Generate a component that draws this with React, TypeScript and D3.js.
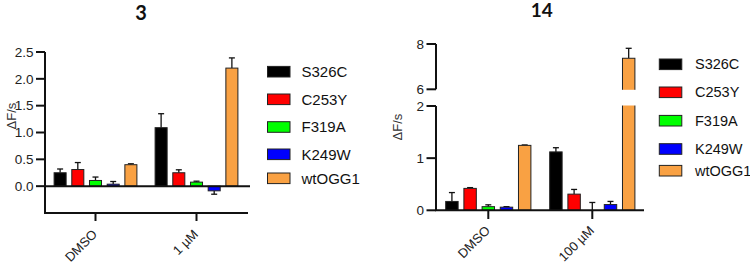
import React from "react";
import * as d3 from "d3";

const series = ["S326C", "C253Y", "F319A", "K249W", "wtOGG1"];
const colors = ["#000000", "#ff0000", "#00ff00", "#0000ff", "#f9a143"];

const groups1 = ["DMSO", "1 µM"];
const means1 = [
  [0.25, 0.31, 0.106, 0.037, 0.40],
  [1.09, 0.25, 0.075, -0.087, 2.2],
];
const errs1 = [
  [0.07, 0.13, 0.064, 0.05, 0.017],
  [0.26, 0.055, 0.018, 0.063, 0.19],
];
const yTicks1 = [0, 0.5, 1.0, 1.5, 2.0, 2.5];

const groups2 = ["DMSO", "100 µM"];
const means2 = [
  [0.17, 0.42, 0.07, 0.06, 1.245],
  [1.12, 0.31, 0.0, 0.11, 7.37],
];
const errs2 = [
  [0.17, 0.015, 0.035, 0.01, 0.008],
  [0.08, 0.09, 0.15, 0.06, 0.44],
];
const yTicksLow2 = [0, 1, 2];
const yTicksHigh2 = [6, 8];

const FONT = "'Liberation Sans', Arial, sans-serif";
const TITLE_FONT = "Lato, 'Open Sans', sans-serif";

function Legend({ x, textX, ys, fontSize }: { x: number; textX: number; ys: number[]; fontSize: number }) {
  return (
    <g>
      {series.map((s, i) => (
        <g key={s}>
          <rect x={x} y={ys[i] - 5.3} width={22.5} height={10.6} fill={colors[i]} stroke="#222" strokeWidth={1} />
          <text x={textX} y={ys[i]} dy="0.35em" fontFamily={FONT} fontSize={fontSize} fill="#111">
            {s}
          </text>
        </g>
      ))}
    </g>
  );
}

function Chart1() {
  const x0 = d3.scaleBand<string>().domain(groups1).range([45, 247]);
  const x1 = d3.scaleBand<string>().domain(series).range([-41.4, 41.4]).paddingInner(0.32).paddingOuter(0);
  const y = d3.scaleLinear().domain([-0.5, 2.5]).range([213, 52]);
  const fmt = d3.format(".1f");
  const bw = x1.bandwidth();
  return (
    <g>
      <text x={141} y={20} textAnchor="middle" fontFamily={TITLE_FONT} fontWeight={700} fontSize={20} fill="#111">
        3
      </text>
      <text transform={`translate(11,116) rotate(-90)`} textAnchor="middle" dy="0.35em" fontFamily={FONT} fontSize={13} fill="#333">
        ΔF/s
      </text>
      {groups1.map((g, gi) => {
        const cx = (x0(g) as number) + x0.bandwidth() / 2;
        return (
          <g key={g}>
            {series.map((s, si) => {
              const v = means1[gi][si];
              const e = errs1[gi][si];
              const bx = cx + (x1(s) as number);
              const top = Math.min(y(v), y(0));
              const h = Math.abs(y(v) - y(0));
              const ey = y(v + (v >= 0 ? e : -e));
              const mx = bx + bw / 2;
              return (
                <g key={s}>
                  <line x1={mx} x2={mx} y1={y(v)} y2={ey} stroke="#111" strokeWidth={1.3} />
                  <line x1={mx - 3} x2={mx + 3} y1={ey} y2={ey} stroke="#111" strokeWidth={1.3} />
                  <rect x={bx} y={top} width={bw} height={h} fill={colors[si]} stroke="#222" strokeWidth={1} />
                </g>
              );
            })}
            <line x1={cx} x2={cx} y1={y(-0.5)} y2={221} stroke="#111" strokeWidth={2} />
            <text
              transform={`translate(${cx + 2.5},${y(-0.5) + 22}) rotate(-45)`}
              textAnchor="end"
              fontFamily={FONT}
              fontSize={13}
              fill="#222"
            >
              {g}
            </text>
          </g>
        );
      })}
      <line x1={45} x2={250} y1={y(0)} y2={y(0)} stroke="#111" strokeWidth={2} />
      <line x1={44} x2={248} y1={y(-0.5)} y2={y(-0.5)} stroke="#111" strokeWidth={2} />
      <line x1={45} x2={45} y1={y(2.5)} y2={y(-0.5)} stroke="#111" strokeWidth={2} />
      {yTicks1.map((t) => (
        <g key={t}>
          <line x1={36} x2={45} y1={y(t)} y2={y(t)} stroke="#111" strokeWidth={2} />
          <text x={33.5} y={y(t)} dy="0.35em" textAnchor="end" fontFamily={FONT} fontSize={13.5} fill="#222">
            {fmt(t)}
          </text>
        </g>
      ))}
      <Legend x={267.5} textX={301.5} ys={[71.7, 99.3, 127, 154.3, 178.3]} fontSize={15} />
    </g>
  );
}

function Chart2() {
  const x0 = d3.scaleBand<string>().domain(groups2).range([436.3, 644.3]);
  const x1 = d3.scaleBand<string>().domain(series).range([-42.6, 42.6]).paddingInner(0.317).paddingOuter(0);
  const yLow = d3.scaleLinear().domain([0, 2]).range([210.3, 106]);
  const yHigh = d3.scaleLinear().domain([6, 8]).range([89.3, 44]);
  const y = (v: number) => (v <= 2 ? yLow(v) : yHigh(v));
  const bw = x1.bandwidth();
  return (
    <g>
      <text x={541.7} y={17} textAnchor="middle" fontFamily={TITLE_FONT} fontWeight={700} fontSize={19} fill="#111">
        14
      </text>
      <text transform={`translate(397.5,127) rotate(-90)`} textAnchor="middle" dy="0.35em" fontFamily={FONT} fontSize={13} fill="#333">
        ΔF/s
      </text>
      {groups2.map((g, gi) => {
        const cx = (x0(g) as number) + x0.bandwidth() / 2;
        return (
          <g key={g}>
            {series.map((s, si) => {
              const v = means2[gi][si];
              const e = errs2[gi][si];
              const bx = cx + (x1(s) as number);
              const top = y(v);
              const h = yLow(0) - top;
              const ey = y(v + e);
              const mx = bx + bw / 2;
              return (
                <g key={s}>
                  <line x1={mx} x2={mx} y1={y(v)} y2={ey} stroke="#111" strokeWidth={1.3} />
                  <line x1={mx - 3} x2={mx + 3} y1={ey} y2={ey} stroke="#111" strokeWidth={1.3} />
                  <rect x={bx} y={top} width={bw} height={h} fill={colors[si]} stroke="#222" strokeWidth={1} />
                  {v > 2 && (
                    <rect x={bx - 2} y={yHigh(6) + 0.5} width={bw + 4} height={yLow(2) - yHigh(6) - 1} fill="#fff" />
                  )}
                </g>
              );
            })}
            <line x1={cx} x2={cx} y1={yLow(0)} y2={219} stroke="#111" strokeWidth={2} />
            <text
              transform={`translate(${cx + 2.5},${yLow(0) + 21}) rotate(-45)`}
              textAnchor="end"
              fontFamily={FONT}
              fontSize={13}
              fill="#222"
            >
              {g}
            </text>
          </g>
        );
      })}
      <line x1={435} x2={644} y1={yLow(0)} y2={yLow(0)} stroke="#111" strokeWidth={2} />
      <line x1={436} x2={436} y1={yLow(2)} y2={yLow(0)} stroke="#111" strokeWidth={2} />
      <line x1={436} x2={436} y1={yHigh(8)} y2={yHigh(6)} stroke="#111" strokeWidth={2} />
      {yTicksLow2.map((t) => (
        <g key={t}>
          <line x1={426.5} x2={436} y1={yLow(t)} y2={yLow(t)} stroke="#111" strokeWidth={2} />
          <text x={424} y={yLow(t)} dy="0.35em" textAnchor="end" fontFamily={FONT} fontSize={13.5} fill="#222">
            {t}
          </text>
        </g>
      ))}
      {yTicksHigh2.map((t) => (
        <g key={t}>
          <line x1={426.5} x2={436} y1={yHigh(t)} y2={yHigh(t)} stroke="#111" strokeWidth={2} />
          <text x={424} y={yHigh(t)} dy="0.35em" textAnchor="end" fontFamily={FONT} fontSize={13.5} fill="#222">
            {t}
          </text>
        </g>
      ))}
      <Legend x={659.3} textX={695} ys={[64.3, 92.3, 120.7, 149, 170.7]} fontSize={14.5} />
    </g>
  );
}

export default function App() {
  return (
    <svg
      width={750}
      height={264}
      viewBox="0 0 750 264"
      style={{ position: "absolute", left: 0, top: 0, background: "#fff" }}
    >
      <rect width={750} height={264} fill="#fff" />
      <Chart1 />
      <Chart2 />
    </svg>
  );
}
